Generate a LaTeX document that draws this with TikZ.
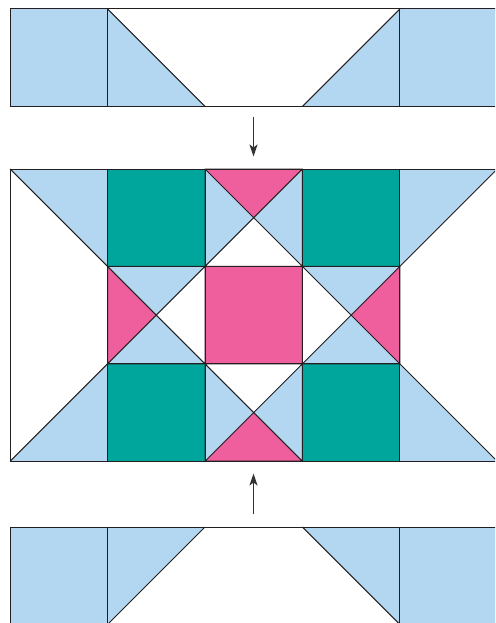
\documentclass[tikz,border=0pt]{standalone}
\usetikzlibrary{arrows.meta}
\definecolor{qlb}{HTML}{B3D6F1}
\definecolor{qteal}{HTML}{00A69C}
\definecolor{qpink}{HTML}{F05F9D}
\definecolor{qline}{HTML}{231F20}
\definecolor{qarrow}{HTML}{333333}
\def\U{97.4}
% column x positions
\def\Xa{10.2}\def\Xb{107.6}\def\Xc{205}\def\Xd{302.4}\def\Xe{399.8}\def\Xf{497.2}
% rows
\def\Ta{9}\def\Tb{106.4}
\def\Ma{169}\def\Mb{266.4}\def\Mc{363.8}\def\Md{461.2}
\def\Ba{527}\def\Bb{624.4}
% quarter-square unit: #1 x, #2 y (top-left), #3 top, #4 right, #5 bottom, #6 left
\newcommand\qunit[6]{%
  \begin{scope}[shift={(#1,#2)}]
    \fill[#3] (0,0) -- (\U,0) -- (\U/2,\U/2) -- cycle;
    \fill[#4] (\U,0) -- (\U,\U) -- (\U/2,\U/2) -- cycle;
    \fill[#5] (0,\U) -- (\U,\U) -- (\U/2,\U/2) -- cycle;
    \fill[#6] (0,0) -- (0,\U) -- (\U/2,\U/2) -- cycle;
    \draw[quilt] (0,0) rectangle (\U,\U) (0,0) -- (\U,\U) (\U,0) -- (0,\U);
  \end{scope}}
\begin{document}
\begin{tikzpicture}[x=1pt,y=-1pt,
  quilt/.style={draw=qline,line width=1pt,line join=miter},
  arrowline/.style={draw=qarrow,line width=1.3pt,-{Stealth[length=12pt,width=8pt,inset=3pt]}}]
\useasboundingbox (0,0) rectangle (495,623);
\fill[white] (0,0) rectangle (495,623);
\clip (0,0) rectangle (495,623);

% ---------- top strip ----------
\fill[qlb] (\Xa,\Ta) rectangle (\Xb,\Tb);
\fill[qlb] (\Xb,\Ta) -- (\Xc,\Tb) -- (\Xb,\Tb) -- cycle;
\fill[qlb] (\Xe,\Ta) -- (\Xd,\Tb) -- (\Xe,\Tb) -- cycle;
\fill[qlb] (\Xe,\Ta) rectangle (\Xf,\Tb);
\draw[quilt] (\Xa,\Ta) rectangle (\Xf,\Tb);
\draw[quilt] (\Xb,\Ta) -- (\Xb,\Tb) (\Xe,\Ta) -- (\Xe,\Tb);
\draw[quilt] (\Xb,\Ta) -- (\Xc,\Tb) (\Xe,\Ta) -- (\Xd,\Tb);

% ---------- middle block ----------
% side columns
\fill[qlb] (\Xa,\Ma) -- (\Xb,\Ma) -- (\Xb,\Mb) -- cycle;
\fill[qlb] (\Xa,\Md) -- (\Xb,\Md) -- (\Xb,\Mc) -- cycle;
\fill[qlb] (\Xf,\Ma) -- (\Xe,\Ma) -- (\Xe,\Mb) -- cycle;
\fill[qlb] (\Xf,\Md) -- (\Xe,\Md) -- (\Xe,\Mc) -- cycle;
% teal squares
\fill[qteal] (\Xb,\Ma) rectangle (\Xc,\Mb);
\fill[qteal] (\Xd,\Ma) rectangle (\Xe,\Mb);
\fill[qteal] (\Xb,\Mc) rectangle (\Xc,\Md);
\fill[qteal] (\Xd,\Mc) rectangle (\Xe,\Md);
% pink centre
\fill[qpink] (\Xc,\Mb) rectangle (\Xd,\Mc);
% quarter-square units
\qunit{\Xc}{\Ma}{qpink}{qlb}{white}{qlb}
\qunit{\Xb}{\Mb}{qlb}{white}{qlb}{qpink}
\qunit{\Xd}{\Mb}{qlb}{qpink}{qlb}{white}
\qunit{\Xc}{\Mc}{white}{qlb}{qpink}{qlb}
% lines
\draw[quilt] (\Xa,\Ma) rectangle (\Xf,\Md);
\draw[quilt] (\Xb,\Ma) -- (\Xb,\Md) (\Xc,\Ma) -- (\Xc,\Md)
             (\Xd,\Ma) -- (\Xd,\Md) (\Xe,\Ma) -- (\Xe,\Md);
\draw[quilt] (\Xb,\Mb) -- (\Xe,\Mb) (\Xb,\Mc) -- (\Xe,\Mc);
\draw[quilt] (\Xa,\Ma) -- (\Xb,\Mb) (\Xa,\Md) -- (\Xb,\Mc)
             (\Xf,\Ma) -- (\Xe,\Mb) (\Xf,\Md) -- (\Xe,\Mc);

% ---------- bottom strip ----------
\fill[qlb] (\Xa,\Ba) rectangle (\Xb,\Bb);
\fill[qlb] (\Xb,\Ba) -- (\Xc,\Ba) -- (\Xb,\Bb) -- cycle;
\fill[qlb] (\Xe,\Ba) -- (\Xd,\Ba) -- (\Xe,\Bb) -- cycle;
\fill[qlb] (\Xe,\Ba) rectangle (\Xf,\Bb);
\draw[quilt] (\Xa,\Ba) rectangle (\Xf,\Bb);
\draw[quilt] (\Xb,\Ba) -- (\Xb,\Bb) (\Xe,\Ba) -- (\Xe,\Bb);
\draw[quilt] (\Xc,\Ba) -- (\Xb,\Bb) (\Xd,\Ba) -- (\Xe,\Bb);

% ---------- arrows ----------
\coordinate (topTail) at (253.5,117);
\coordinate (topHead) at (253.5,156.5);
\coordinate (botTail) at (253.5,514);
\coordinate (botHead) at (253.5,473.5);
\draw[arrowline] (topTail) -- (topHead);
\draw[arrowline] (botTail) -- (botHead);
\end{tikzpicture}
\end{document}
